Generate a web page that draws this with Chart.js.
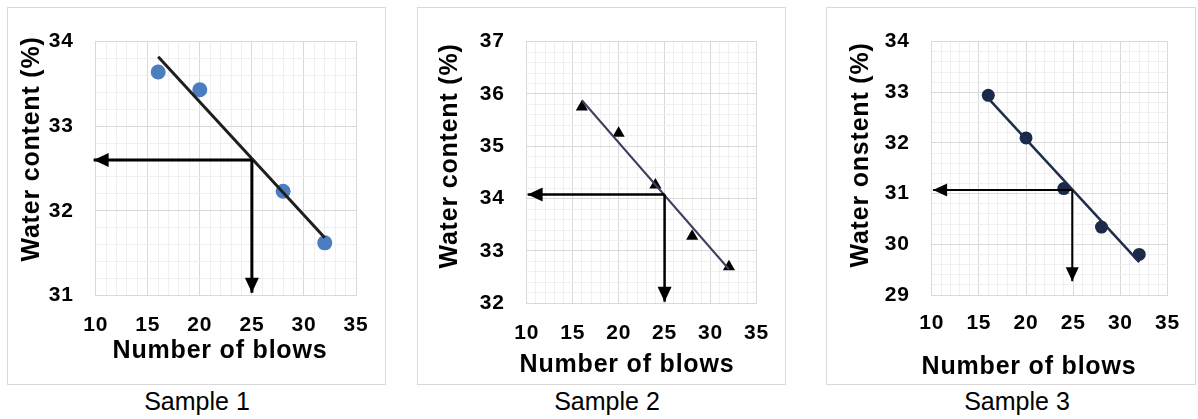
<!DOCTYPE html>
<html>
<head>
<meta charset="utf-8">
<script src="https://cdn.jsdelivr.net/npm/chart.js@4.4.1/dist/chart.umd.min.js"></script>
<style>
html,body{margin:0;padding:0;background:#fff;}
body{width:1198px;height:419px;position:relative;overflow:hidden;font-family:"Liberation Sans",Arial,sans-serif;}
.frame{position:absolute;box-sizing:border-box;border:1px solid #d9d9d9;}
canvas{position:absolute;}
.cap{position:absolute;width:200px;font-size:25px;line-height:25px;color:#000;text-align:center;white-space:nowrap;}
</style>
</head>
<body>
<div class="frame" style="left:7px;top:7px;width:379px;height:378px;"></div>
<div class="frame" style="left:417px;top:7px;width:369px;height:378px;"></div>
<div class="frame" style="left:826px;top:7px;width:370px;height:378px;"></div>
<canvas id="c1" width="379" height="378" style="left:7px;top:7px;"></canvas>
<canvas id="c2" width="369" height="378" style="left:417px;top:7px;"></canvas>
<canvas id="c3" width="370" height="378" style="left:826px;top:7px;"></canvas>
<div class="cap" style="left:97px;top:389px;">Sample 1</div>
<div class="cap" style="left:507px;top:389px;">Sample 2</div>
<div class="cap" style="left:917px;top:389px;">Sample 3</div>
<script>
// ---------- data ----------
const xTickLabels = [10, 15, 20, 25, 30, 35];

// Sample 1
const blows1 = [16, 20, 28, 32];
const water1 = [33.64, 33.43, 32.23, 31.62];
const trendBlows1 = [16, 32];
const trendWater1 = [33.82, 31.68];
const yTickLabels1 = [31, 32, 33, 34];
const hArrowBlows1 = [25, 9.8];
const hArrowWater1 = [32.6, 32.6];
const vArrowBlows1 = [25, 25];
const vArrowWater1 = [32.6, 31.03];

// Sample 2
const blows2 = [16, 20, 24, 28, 32];
const water2 = [35.75, 35.25, 34.26, 33.28, 32.70];
const trendBlows2 = [16, 32];
const trendWater2 = [35.88, 32.65];
const yTickLabels2 = [32, 33, 34, 35, 36, 37];
const hArrowBlows2 = [25, 10.1];
const hArrowWater2 = [34.08, 34.08];
const vArrowBlows2 = [25, 25];
const vArrowWater2 = [34.08, 32.03];

// Sample 3
const blows3 = [16, 20, 24, 28, 32];
const water3 = [32.94, 32.10, 31.10, 30.34, 29.80];
const trendBlows3 = [16, 32];
const trendWater3 = [32.88, 29.65];
const yTickLabels3 = [29, 30, 31, 32, 33, 34];
const hArrowBlows3 = [24.9, 10.15];
const hArrowWater3 = [31.07, 31.07];
const vArrowBlows3 = [24.9, 24.9];
const vArrowWater3 = [31.07, 29.27];

// ---------- helpers ----------
const FONT = '"Liberation Sans", Arial, sans-serif';
Chart.defaults.font.family = FONT;
Chart.defaults.color = '#000';

function pts(xs, ys) { return xs.map((x, i) => ({x: x, y: ys[i]})); }
function subdivide(majors, n) {
  const out = [];
  for (let i = 0; i < majors.length - 1; i++) {
    const step = (majors[i + 1] - majors[i]) / n;
    for (let k = 0; k < n; k++) out.push(majors[i] + k * step);
  }
  out.push(majors[majors.length - 1]);
  return out;
}
function majorOf(v, majors) {
  for (const m of majors) if (Math.abs(m - v) < 1e-6) return m;
  return null;
}

const spacingPlugin = {
  id: 'wideText',
  beforeLayout(chart) { chart.ctx.letterSpacing = '0.8px'; },
  beforeDraw(chart) { chart.ctx.letterSpacing = '0.8px'; }
};

// axis titles, placed where the original figure has them
const axisTitlePlugin = {
  id: 'axisTitles',
  afterDraw(chart, args, o) {
    const ctx = chart.ctx;
    ctx.save();
    ctx.letterSpacing = '0.8px';
    ctx.fillStyle = '#000';
    ctx.font = 'bold 25px ' + FONT;
    ctx.textAlign = 'center';
    ctx.textBaseline = 'middle';
    ctx.fillText(o.x, o.xPos[0], o.xPos[1]);
    ctx.translate(o.yPos[0], o.yPos[1]);
    ctx.rotate(-Math.PI / 2);
    ctx.fillText(o.y, 0, 0);
    ctx.restore();
  }
};

const arrowPlugin = {
  id: 'arrowHeads',
  afterDatasetsDraw(chart) {
    const ctx = chart.ctx;
    chart.data.datasets.forEach((ds, i) => {
      if (!ds.arrowHead) return;
      const els = chart.getDatasetMeta(i).data;
      const a = els[els.length - 2], b = els[els.length - 1];
      const ang = Math.atan2(b.y - a.y, b.x - a.x);
      ctx.save();
      ctx.translate(b.x, b.y);
      ctx.rotate(ang);
      ctx.beginPath();
      ctx.moveTo(0, 0);
      ctx.lineTo(-ds.arrowHead.len, -ds.arrowHead.half);
      ctx.lineTo(-ds.arrowHead.len, ds.arrowHead.half);
      ctx.closePath();
      ctx.fillStyle = ds.borderColor;
      ctx.fill();
      ctx.restore();
    });
  }
};

function makeChart(p) {
  const xAll = subdivide(xTickLabels, 5);
  const yAll = subdivide(p.yTicks, 5);
  const arrowDs = (xs, ys) => ({
    data: pts(xs, ys), showLine: true, borderColor: '#000', borderWidth: p.arrowWidth,
    pointRadius: 0, clip: false, arrowHead: {len: p.headLen, half: p.headHalf}
  });
  new Chart(document.getElementById(p.id), {
    type: 'scatter',
    data: {
      datasets: [
        arrowDs(p.hx, p.hy),
        arrowDs(p.vx, p.vy),
        {
          data: pts(p.tx, p.ty), showLine: true, borderColor: p.trendColor,
          borderWidth: p.trendWidth, pointRadius: 0
        },
        {
          data: pts(p.bx, p.by), showLine: false, pointStyle: p.pointStyle,
          pointRadius: p.pointRadius, backgroundColor: p.pointColor,
          borderColor: p.pointColor, borderWidth: 0
        }
      ]
    },
    options: {
      responsive: false, animation: false, devicePixelRatio: 1, events: [],
      layout: {padding: {left: p.padL, top: p.padT, right: p.padR, bottom: p.padB}},
      plugins: {
        legend: {display: false}, tooltip: {enabled: false},
        axisTitles: {x: p.xTitle, y: p.yTitle, xPos: p.xTitlePos, yPos: p.yTitlePos}
      },
      scales: {
        x: {
          type: 'linear', min: xTickLabels[0], max: xTickLabels[xTickLabels.length - 1],
          afterBuildTicks: s => { s.ticks = xAll.map(v => ({value: v})); },
          afterFit: s => { s.height = p.xH; },
          ticks: {
            autoSkip: false, maxRotation: 0, minRotation: 0, padding: p.xTickPad,
            color: '#000', font: {size: 21, weight: 'bold'},
            callback: v => { const m = majorOf(v, xTickLabels); return m === null ? '' : String(m); }
          },
          grid: {
            drawTicks: false, lineWidth: 1,
            color: c => majorOf(c.tick.value, xTickLabels) === null ? '#efefef' : '#d9d9d9'
          },
          border: {color: '#d9d9d9', width: 1},
          title: {display: false}
        },
        y: {
          type: 'linear', min: p.yTicks[0], max: p.yTicks[p.yTicks.length - 1],
          afterBuildTicks: s => { s.ticks = yAll.map(v => ({value: v})); },
          afterFit: s => { s.width = p.yW; },
          ticks: {
            autoSkip: false, padding: 22, color: '#000', font: {size: 21, weight: 'bold'},
            callback: v => { const m = majorOf(v, p.yTicks); return m === null ? '' : String(m); }
          },
          grid: {
            drawTicks: false, lineWidth: 1,
            color: c => majorOf(c.tick.value, p.yTicks) === null ? '#efefef' : '#d9d9d9'
          },
          border: {color: '#d9d9d9', width: 1},
          title: {display: false}
        }
      }
    },
    plugins: [spacingPlugin, arrowPlugin, axisTitlePlugin]
  });
}

makeChart({
  id: 'c1', padL: 10, padT: 13.7, padR: 30, padB: 19.2, yW: 78.7, xH: 70.5, xTickPad: 17,
  yTicks: yTickLabels1, bx: blows1, by: water1, tx: trendBlows1, ty: trendWater1,
  hx: hArrowBlows1, hy: hArrowWater1, vx: vArrowBlows1, vy: vArrowWater1,
  pointStyle: 'circle', pointRadius: 7.5, pointColor: '#4a7ebf',
  trendColor: '#1e1e1e', trendWidth: 3, arrowWidth: 3, headLen: 15, headHalf: 7,
  xTitle: 'Number of blows', yTitle: 'Water content (%)',
  xTitlePos: [213, 344], yTitlePos: [25, 142]
});
makeChart({
  id: 'c2', padL: 18, padT: 29, padR: 21, padB: 5, yW: 91.7, xH: 76.7, xTickPad: 17,
  yTicks: yTickLabels2, bx: blows2, by: water2, tx: trendBlows2, ty: trendWater2,
  hx: hArrowBlows2, hy: hArrowWater2, vx: vArrowBlows2, vy: vArrowWater2,
  pointStyle: 'triangle', pointRadius: 7, pointColor: '#000',
  trendColor: '#45395e', trendWidth: 2, arrowWidth: 2.5, headLen: 15, headHalf: 7,
  xTitle: 'Number of blows', yTitle: 'Water content (%)',
  xTitlePos: [210, 358], yTitlePos: [33, 149]
});
makeChart({
  id: 'c3', padL: 20, padT: 29, padR: 22, padB: 3.3, yW: 85.7, xH: 86.7, xTickPad: 16,
  yTicks: yTickLabels3, bx: blows3, by: water3, tx: trendBlows3, ty: trendWater3,
  hx: hArrowBlows3, hy: hArrowWater3, vx: vArrowBlows3, vy: vArrowWater3,
  pointStyle: 'circle', pointRadius: 6.5, pointColor: '#1b2a48',
  trendColor: '#1f2d4d', trendWidth: 2.5, arrowWidth: 2, headLen: 14, headHalf: 6.5,
  xTitle: 'Number of blows', yTitle: 'Water onstent (%)',
  xTitlePos: [203, 360], yTitlePos: [35, 148]
});
</script>
</body>
</html>
